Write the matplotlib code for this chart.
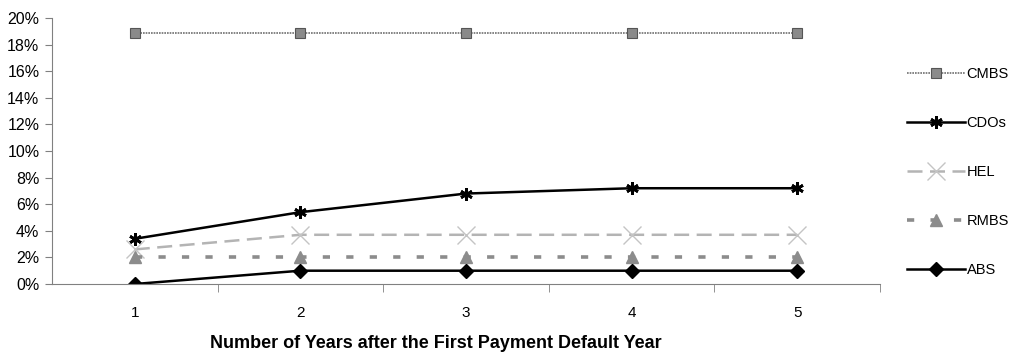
import matplotlib.pyplot as plt
from matplotlib import font_manager
from matplotlib.ticker import FixedLocator, PercentFormatter

names = {f.name for f in font_manager.fontManager.ttflist}
narrow = [n for n in ['Liberation Sans Narrow', 'Arial Narrow'] if n in names]
plt.rcParams['font.family'] = narrow + ['Liberation Sans', 'DejaVu Sans']

years = [1, 2, 3, 4, 5]
cmbs = [18.9, 18.9, 18.9, 18.9, 18.9]
cdos = [3.4, 5.4, 6.8, 7.2, 7.2]
hel = [2.6, 3.7, 3.7, 3.7, 3.7]
rmbs = [2.0, 2.0, 2.0, 2.0, 2.0]
abs_ = [0.0, 1.0, 1.0, 1.0, 1.0]

fig = plt.figure(figsize=(10.11, 3.52), dpi=100)
ax = fig.add_axes([52 / 1011, 1 - 284 / 352, 828 / 1011, 266 / 352])

ax.plot(years, cmbs, color='#707070', lw=1.2, ls=(0, (1, 0.6)),
        marker='s', ms=7, mfc='#8a8a8a', mec='#555555', mew=0.8, label='CMBS')
ax.plot(years, cdos, color='black', lw=1.8,
        marker=(6, 2, 0), ms=9, mew=2, mec='black', label='CDOs')
ax.plot(years, hel, color='#b4b4b4', lw=1.8, ls=(0, (6, 3)),
        marker='x', ms=13, mew=1, mec='#c4c4c4', label='HEL')
ax.plot(years, rmbs, color='#8c8c8c', lw=2.6, ls=(0, (2, 4.5)),
        marker='^', ms=9, mfc='#8c8c8c', mec='#8c8c8c', label='RMBS')
ax.plot(years, abs_, color='black', lw=1.8,
        marker='D', ms=7, mfc='black', mec='black', label='ABS')

ax.set_xlim(0.5, 5.5)
ax.set_ylim(0, 20)
ax.set_yticks(range(0, 21, 2))
ax.yaxis.set_major_formatter(PercentFormatter(decimals=0))
ax.set_xticks(years)
ax.set_xticklabels([str(y) for y in years])
# category axis: ticks sit between the categories
ax.xaxis.set_minor_locator(FixedLocator([1.5, 2.5, 3.5, 4.5, 5.5]))
ax.tick_params(axis='x', which='major', length=0, pad=16, labelsize=11)
ax.tick_params(axis='x', which='minor', length=6, color='#808080', direction='out')
ax.tick_params(axis='y', length=5, color='#808080', labelsize=11.5, pad=4)

for side in ['top', 'right']:
    ax.spines[side].set_visible(False)
for side in ['left', 'bottom']:
    ax.spines[side].set_color('#808080')

ax.set_xlabel('Number of Years after the First Payment Default Year',
              fontsize=13, fontweight='bold', va='center')
ax.xaxis.set_label_coords((436 - 52) / 828, -(343 - 284) / 266)

ax.legend(loc='upper left', bbox_to_anchor=(901 / 1011, 1 - 61 / 352),
          bbox_transform=fig.transFigure, frameon=False, fontsize=10.5,
          handlelength=4.0, handletextpad=0.1, labelspacing=2.4,
          borderaxespad=0)

fig.savefig('out.png', dpi=100)
